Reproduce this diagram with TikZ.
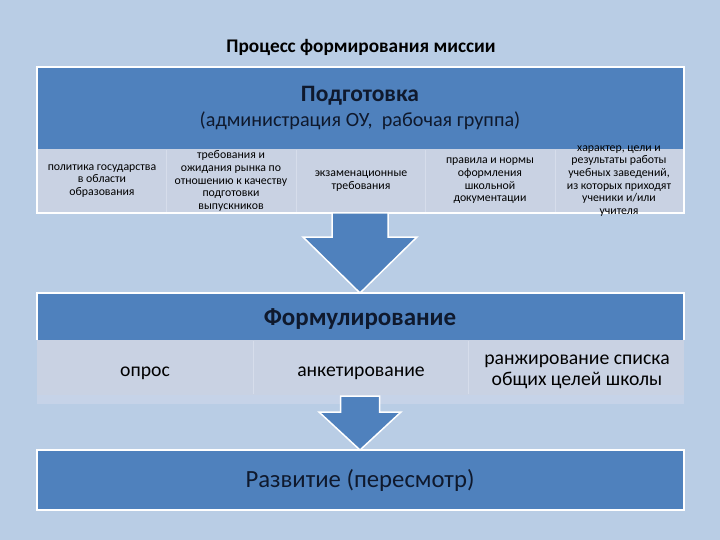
\documentclass[tikz,border=0pt]{standalone}
\usepackage{fontspec}
\setmainfont{Carlito}
\usetikzlibrary{calc}
\definecolor{bgblue}{RGB}{185,205,229}
\definecolor{hdrblue}{RGB}{79,129,189}
\definecolor{cellgray}{RGB}{201,210,227}
\definecolor{cellline}{RGB}{214,221,235}
\definecolor{bandblue}{RGB}{198,211,232}
\definecolor{hdrtext}{RGB}{15,25,45}

\begin{document}
\begin{tikzpicture}[x=1pt,y=-1pt, every node/.style={inner sep=0pt}]
	\useasboundingbox (0,0) rectangle (720,540);
	\fill[bgblue] (0,0) rectangle (720,540);

	\node (title) at (361,47) {\bfseries\fontsize{19.3}{22}\selectfont Процесс формирования миссии};

	% Подготовка
	\fill[cellgray] (37,149) rectangle (684,213);
	\foreach \x in {166,296,425,555} \draw[cellline] (\x,150)--(\x,212);
	\fill[hdrblue] (37,67) rectangle (684,149);
	\draw[white,line width=2pt] (37,67) rectangle (684,213);
	\node[align=center,text=hdrtext,font=\fontsize{20.2}{25}\selectfont] (prep) at (360,108) {{\bfseries\fontsize{23.5}{25}\selectfont Подготовка}\\(администрация ОУ,\ \ рабочая группа)};

	\begin{scope}[every node/.style={align=center,font=\fontsize{11.8}{12.7}\selectfont}]
		\node (cA) at (102,181) {политика государства\\в области\\образования};
		\node (cB) at (231,181) {требования и\\ожидания рынка по\\отношению к качеству\\подготовки\\выпускников};
		\node (cC) at (361,181) {экзаменационные\\требования};
		\node (cD) at (490,181) {правила и нормы\\оформления\\школьной\\документации};
		\node (cE) at (619,181) {характер, цели и\\результаты работы\\учебных заведений,\\из которых приходят\\ученики и/или\\учителя};
	\end{scope}

	% Формулирование
	\fill[bandblue] (37,395) rectangle (684,404);
	\fill[cellgray] (37,340) rectangle (684,395);
	\foreach \x in {253,468} \draw[cellline] (\x,341)--(\x,394);
	\fill[hdrblue] (37,293) rectangle (684,340);
	\draw[white,line width=1.5pt] (37,340)--(37,293)--(684,293)--(684,340);
	\node[text=hdrtext] (form) at (360,319) {\bfseries\fontsize{25}{28}\selectfont Формулирование};

	\begin{scope}[every node/.style={align=center,font=\fontsize{19.7}{21}\selectfont}]
		\node (fA) at (145,373) {опрос};
		\node (fB) at (361,373) {анкетирование};
		\node (fC) at (577,372) {ранжирование списка\\общих целей школы};
	\end{scope}

	% Развитие
	\fill[hdrblue] (37,450) rectangle (684,510);
	\draw[white,line width=2pt] (37,450) rectangle (684,510);
	\node[text=hdrtext] (dev) at (360,480) {\fontsize{24.7}{28}\selectfont Развитие (пересмотр)};

	% стрелки
	\coordinate (a1s) at (360,213);
	\coordinate (a1e) at (360,293);
	\filldraw[fill=hdrblue,draw=white,line width=1.5pt] ($(a1s)+(-28,0)$) -- ($(a1s)+(28,0)$) -- ($(a1e)+(28,-56)$) -- ($(a1e)+(57,-56)$) -- (a1e) -- ($(a1e)+(-57,-56)$) -- ($(a1e)+(-28,-56)$) -- cycle;
	\coordinate (a2s) at (360,396);
	\coordinate (a2e) at (360,450);
	\filldraw[fill=hdrblue,draw=white,line width=1.5pt] ($(a2s)+(-19.5,0)$) -- ($(a2s)+(19.5,0)$) -- ($(a2e)+(19.5,-38)$) -- ($(a2e)+(41,-38)$) -- (a2e) -- ($(a2e)+(-41,-38)$) -- ($(a2e)+(-19.5,-38)$) -- cycle;
\end{tikzpicture}
\end{document}
